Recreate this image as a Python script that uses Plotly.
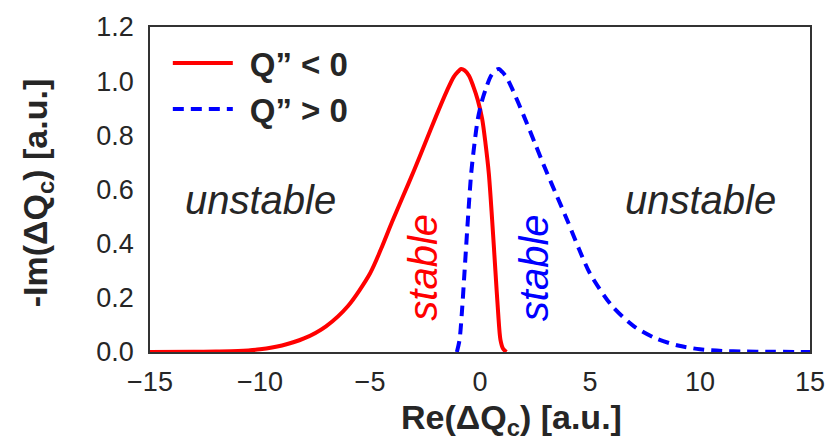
import plotly.graph_objects as go

# Stability diagram: -Im(dQc) versus Re(dQc) for negative and positive chromaticity
x_neg = [-15.0, -13.0, -12.0, -11.0, -10.0, -9.0, -8.0, -7.0, -6.0, -5.0, -4.5, -4.0,
         -3.5, -3.0, -2.5, -2.0, -1.5, -1.2, -1.0, -0.86, -0.7, -0.5, -0.3, -0.1,
         0.1, 0.25, 0.4, 0.55, 0.7, 0.82, 0.93, 1.05, 1.2]
y_neg = [0.0, 0.001, 0.002, 0.004, 0.01, 0.024, 0.05, 0.095, 0.17, 0.29, 0.38, 0.48,
         0.575, 0.67, 0.77, 0.87, 0.965, 1.015, 1.035, 1.045, 1.04, 1.02, 0.98, 0.93,
         0.86, 0.77, 0.66, 0.49, 0.30, 0.15, 0.045, 0.012, 0.0]

x_pos = [-1.05, -0.93, -0.82, -0.7, -0.55, -0.4, -0.25, -0.1, 0.1, 0.3, 0.5, 0.7,
         0.86, 1.0, 1.2, 1.5, 2.0, 2.5, 3.0, 3.5, 4.0, 4.5, 5.0, 6.0, 7.0, 8.0, 9.0,
         10.0, 11.0, 12.0, 13.0, 15.0]
y_pos = [0.0, 0.045, 0.15, 0.30, 0.49, 0.66, 0.77, 0.86, 0.93, 0.98, 1.02, 1.04,
         1.045, 1.035, 1.015, 0.965, 0.87, 0.77, 0.67, 0.575, 0.48, 0.38, 0.29, 0.17,
         0.095, 0.05, 0.024, 0.01, 0.004, 0.002, 0.001, 0.0]

legend_names = ["<b>Q\u201d < 0</b>", "<b>Q\u201d > 0</b>"]
region_labels = ["unstable", "stable", "stable", "unstable"]
region_x = [-10.0, -2.63, 2.44, 10.0]
region_y = [0.56, 0.312, 0.312, 0.56]
region_colors = ["#262626", "red", "blue", "#262626"]
region_angles = [0, -90, -90, 0]

x_ticks = [-15, -10, -5, 0, 5, 10, 15]
y_ticks = [0.0, 0.2, 0.4, 0.6, 0.8, 1.0, 1.2]

FONT = "Liberation Sans, Arial, sans-serif"
TEXT = "#262626"

fig = go.Figure()
fig.add_trace(go.Scatter(x=x_neg, y=y_neg, mode="lines", name=" \u200a" + legend_names[0],
                         line=dict(color="red", width=4, shape="spline", smoothing=0.8)))
fig.add_trace(go.Scatter(x=x_pos, y=y_pos, mode="lines", name=" \u200a" + legend_names[1],
                         line=dict(color="blue", width=4, dash="11px,7px",
                                   shape="spline", smoothing=0.8)))

for label, xv, yv, col, ang in zip(region_labels, region_x, region_y,
                                   region_colors, region_angles):
    fig.add_annotation(x=xv, y=yv, text=f"<i>{label}</i>", showarrow=False,
                       textangle=ang, font=dict(family=FONT, size=40, color=col))

# Axis titles
fig.add_annotation(x=0.547, y=-0.135, xref="paper", yref="paper",
                   text="<b>Re(\u0394Q<sub>c</sub>) [a.u.]</b>", showarrow=False,
                   xanchor="center", yanchor="top",
                   font=dict(family=FONT, size=34, color=TEXT))
fig.add_annotation(x=-0.171, y=0.489, xref="paper", yref="paper",
                   text="<b>-Im(\u0394Q<sub>c</sub>) [a.u.]</b>", showarrow=False,
                   textangle=-90, xanchor="center", yanchor="middle",
                   font=dict(family=FONT, size=34, color=TEXT))

axis_common = dict(showgrid=False, zeroline=False, showline=True, mirror=True,
                   linecolor="#333333", linewidth=1.5, ticks="",
                   tickfont=dict(family=FONT, size=27, color=TEXT))

fig.update_layout(
    width=837, height=439,
    margin=dict(l=150, r=25, t=23, b=87),
    paper_bgcolor="white", plot_bgcolor="white",
    font=dict(family=FONT, color=TEXT),
    xaxis=dict(range=[-15, 15], tickvals=x_ticks, ticklabelstandoff=5, **axis_common),
    yaxis=dict(range=[0, 1.2], tickvals=y_ticks, tickformat=".1f",
               ticklabelstandoff=9, **axis_common),
    legend=dict(x=0.027, y=0.975, xanchor="left", yanchor="top", bgcolor="rgba(0,0,0,0)",
                font=dict(family=FONT, size=33, color=TEXT), itemwidth=60,
                tracegroupgap=0),
    showlegend=True,
)

fig.write_html("out.html")
